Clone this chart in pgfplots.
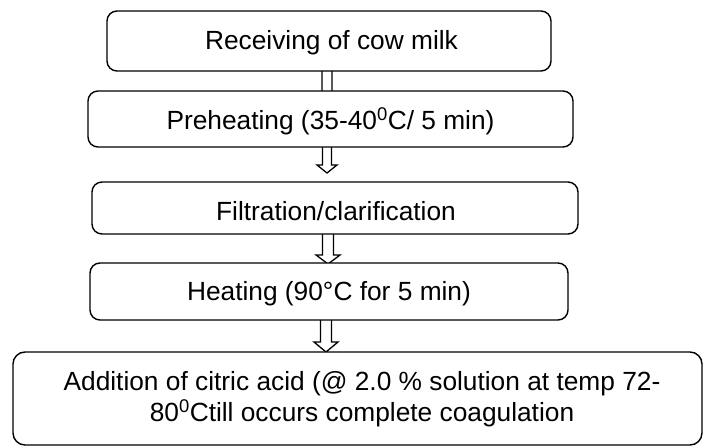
\documentclass[border=0pt]{standalone}
\usepackage{pgfplots}
\pgfplotsset{compat=1.18}
\usepackage{fontspec}
\setmainfont{Liberation Sans}
\newcommand\bigf{\fontsize{26.3bp}{30bp}\selectfont}
\begin{document}
\begin{tikzpicture}
\begin{axis}[
  width=704bp, height=448bp, scale only axis,
  xmin=0, xmax=704, ymin=0, ymax=448, y dir=reverse,
  hide axis, clip=false,
]
% invisible frame to fix the page size
\path (axis cs:0,0) rectangle (axis cs:704,448);
% block arrows (drawn first, boxes cover their ends)
\addplot[black, line width=1.3bp, fill=white] coordinates {
 (322,67) (332,67) (332,92) (338,92) (327,100) (316,92) (322,92)} -- cycle;
\addplot[black, line width=1.3bp, fill=white] coordinates {
 (322.5,146) (331.5,146) (331.5,165) (337,165) (327,173) (317,165) (322.5,165)} -- cycle;
\addplot[black, line width=1.3bp, fill=white] coordinates {
 (322.5,230) (333.5,230) (333.5,255) (340,255) (328,264) (316,255) (322.5,255)} -- cycle;
\addplot[black, line width=1.3bp, fill=white] coordinates {
 (320.5,316) (331.5,316) (331.5,342) (338,342) (326,352) (314,342) (320.5,342)} -- cycle;
% boxes
\addplot[black, line width=1.4bp, fill=white, rounded corners=10bp] coordinates {
 (107,11) (551,11) (551,71) (107,71)} -- cycle;
\addplot[black, line width=1.4bp, fill=white, rounded corners=10bp] coordinates {
 (88,91) (573,91) (573,147) (88,147)} -- cycle;
\addplot[black, line width=1.4bp, fill=white, rounded corners=10bp] coordinates {
 (92,182) (578,182) (578,234) (92,234)} -- cycle;
\addplot[black, line width=1.4bp, fill=white, rounded corners=10bp] coordinates {
 (90,263) (568,263) (568,320) (90,320)} -- cycle;
\addplot[black, line width=1.4bp, fill=white, rounded corners=12bp] coordinates {
 (13,352) (702,352) (702,445) (13,445)} -- cycle;
% texts
\node[anchor=base, inner sep=0pt] at (axis cs:331.5,50) {\bigf Receiving of cow milk};
\node[anchor=base, inner sep=0pt] at (axis cs:330.5,129) {\bigf Preheating (35-40\textsuperscript{0}C/ 5 min)};
\node[anchor=base, inner sep=0pt] at (axis cs:336,220) {\bigf Filtration/clarification};
\node[anchor=base, inner sep=0pt] at (axis cs:329,300) {\bigf Heating (90°C for 5 min)};
\node[anchor=base, inner sep=0pt] at (axis cs:362,390) {\bigf Addition of citric acid (@ 2.0 \% solution at temp 72-};
\node[anchor=base, inner sep=0pt] at (axis cs:362,421) {\bigf 80\textsuperscript{0}Ctill occurs complete coagulation};
\end{axis}
\end{tikzpicture}
\end{document}
